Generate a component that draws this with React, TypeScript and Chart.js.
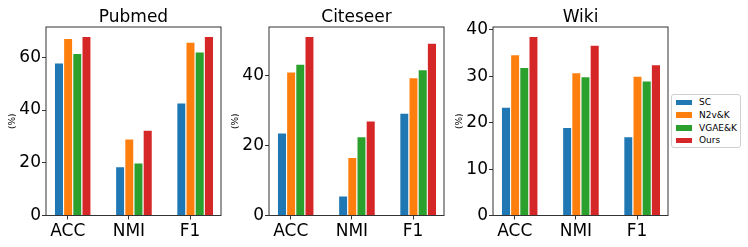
import React, { useEffect, useRef } from "react";
import { Chart, registerables } from "chart.js";
Chart.register(...registerables);

const categories = ["ACC", "NMI", "F1"];
const seriesNames = ["SC", "N2v&K", "VGAE&K", "Ours"];
const seriesColors = ["#1f77b4", "#ff7f0e", "#2ca02c", "#d62728"];

const pubmedSC = [58.0, 18.7, 42.9];
const pubmedN2v = [67.3, 29.2, 65.9];
const pubmedVGAE = [61.6, 20.1, 62.2];
const pubmedOurs = [68.1, 32.5, 68.1];

const citeseerSC = [23.7, 5.7, 29.3];
const citeseerN2v = [41.1, 16.7, 39.4];
const citeseerVGAE = [43.3, 22.6, 41.7];
const citeseerOurs = [51.2, 27.1, 49.3];

const wikiSC = [23.45, 19.1, 17.1];
const wikiN2v = [34.75, 30.9, 30.1];
const wikiVGAE = [32.0, 30.0, 29.1];
const wikiOurs = [38.7, 36.8, 32.6];

const pubmedTicks = [0, 20, 40, 60];
const citeseerTicks = [0, 20, 40];
const wikiTicks = [0, 10, 20, 30, 40];

const FONT = "'DejaVu Sans', sans-serif";
const XMIN = -0.355;
const XMAX = 2.505;

const framePlugin = {
  id: "frame",
  afterDatasetsDraw(chart: any) {
    const { ctx, chartArea } = chart;
    ctx.save();
    ctx.strokeStyle = "#333";
    ctx.lineWidth = 1;
    ctx.strokeRect(chartArea.left, chartArea.top, chartArea.right - chartArea.left, chartArea.bottom - chartArea.top);
    ctx.restore();
  },
};

type PanelProps = { title: string; series: number[][]; ticks: number[]; left: number };

function Panel({ title, series, ticks, left }: PanelProps) {
  const ref = useRef<HTMLCanvasElement>(null);
  useEffect(() => {
    if (!ref.current) return;
    const ymax = 1.05 * Math.max(...series.flat());
    const datasets: any[] = [
      {
        label: "_spacer",
        data: categories.map((_, i) => ({ x: i, y: null })),
        backgroundColor: "rgba(0,0,0,0)",
      },
      ...series.map((vals, s) => ({
        label: seriesNames[s],
        data: vals.map((v, i) => ({ x: i, y: v })),
        backgroundColor: seriesColors[s],
        borderColor: "rgba(255,255,255,0.65)",
        borderWidth: { left: 1, top: 1, right: 0, bottom: 0 },
      })),
    ];
    const chart = new Chart(ref.current, {
      type: "bar",
      data: { datasets },
      options: {
        animation: false,
        responsive: false,
        layout: { padding: { left: 0, right: 4, top: 0, bottom: 0 } },
        datasets: { bar: { categoryPercentage: 0.75, barPercentage: 1.0 } },
        plugins: {
          legend: { display: false },
          tooltip: { enabled: false },
          title: {
            display: true,
            text: title,
            fullSize: false,
            color: "#000",
            font: { family: FONT, size: 17, weight: "normal", lineHeight: 1 },
            padding: { top: 9.5, bottom: 0.5 },
          },
        },
        scales: {
          x: {
            type: "linear",
            min: XMIN,
            max: XMAX,
            offset: false,
            grid: { display: true, offset: false, drawOnChartArea: false, drawTicks: true, tickLength: 4, color: "#333" },
            border: { display: false },
            ticks: {
              color: "#000",
              font: { family: FONT, size: 17 },
              padding: 2,
              maxRotation: 0,
              autoSkip: false,
              callback: (v: any) => categories[Math.round(v)] ?? "",
            },
            afterBuildTicks: (s: any) => {
              s.ticks = categories.map((_, i) => ({ value: i }));
            },
            afterFit: (s: any) => {
              s.height = 31.5;
            },
          },
          y: {
            type: "linear",
            min: 0,
            max: ymax,
            grid: { display: true, drawOnChartArea: false, drawTicks: true, tickLength: 4, color: "#333" },
            border: { display: false },
            ticks: {
              color: "#000",
              font: { family: FONT, size: 17 },
              padding: 1,
              autoSkip: false,
            },
            afterBuildTicks: (s: any) => {
              s.ticks = ticks.map((t) => ({ value: t }));
            },
            afterFit: (s: any) => {
              s.width = 46;
            },
            title: {
              display: true,
              text: "(%)",
              color: "#000",
              font: { family: FONT, size: 9, lineHeight: 1 },
              padding: { top: 8, bottom: 0 },
            },
          },
        },
      } as any,
      plugins: [framePlugin],
    });
    return () => chart.destroy();
  }, []);
  return (
    <canvas
      ref={ref}
      width={225}
      height={247}
      style={{ position: "absolute", left, top: 0, width: 225, height: 247 }}
    />
  );
}

export default function App() {
  return (
    <div style={{ position: "absolute", left: 0, top: 0, width: 748, height: 247, background: "#fff", overflow: "hidden" }}>
      <Panel title="Pubmed" series={[pubmedSC, pubmedN2v, pubmedVGAE, pubmedOurs]} ticks={pubmedTicks} left={0} />
      <Panel title="Citeseer" series={[citeseerSC, citeseerN2v, citeseerVGAE, citeseerOurs]} ticks={citeseerTicks} left={223} />
      <Panel title="Wiki" series={[wikiSC, wikiN2v, wikiVGAE, wikiOurs]} ticks={wikiTicks} left={447} />
      <div
        style={{
          position: "absolute",
          left: 671,
          top: 94,
          width: 68,
          height: 52,
          border: "1px solid #d0d0d0",
          borderRadius: 3,
          background: "#fff",
          fontFamily: FONT,
          fontSize: 9,
          color: "#000",
        }}
      >
        {seriesNames.map((name, i) => (
          <div key={name} style={{ position: "absolute", left: 0, top: 1 + i * 12.8, height: 12, width: 68 }}>
            <div style={{ position: "absolute", left: 4, top: 3.5, width: 16, height: 5.5, background: seriesColors[i] }} />
            <div style={{ position: "absolute", left: 27, top: 0, lineHeight: "12px", whiteSpace: "nowrap" }}>{name}</div>
          </div>
        ))}
      </div>
    </div>
  );
}
